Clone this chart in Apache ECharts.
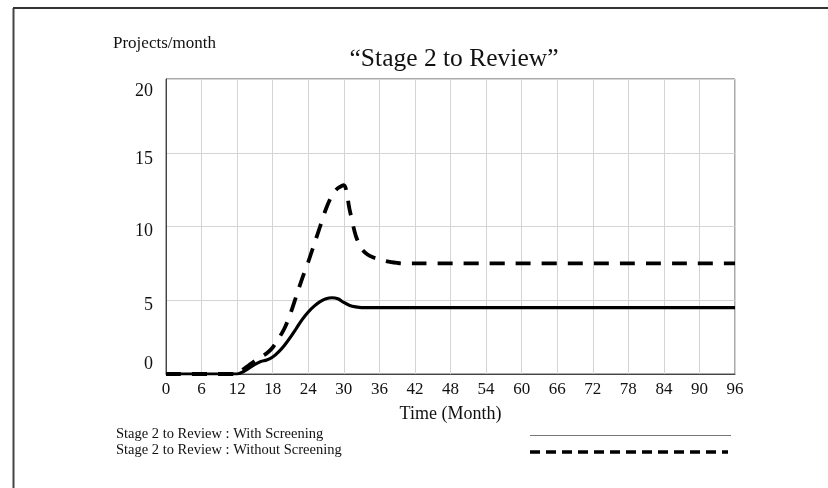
<!DOCTYPE html>
<html>
<head>
<meta charset="utf-8">
<script src="https://cdn.jsdelivr.net/npm/echarts@6/dist/echarts.min.js"></script>
<style>
html,body{margin:0;padding:0;background:#fff;}
#c{width:828px;height:488px;}
</style>
</head>
<body>
<div id="c"></div>
<script>
// Time (months)
var months = [0, 12, 13, 14, 15, 16, 17, 18, 19, 20, 21, 22, 23, 24, 25, 26, 27, 28, 29, 30, 31, 32, 33, 34, 35, 36, 37, 38, 39, 40, 42, 96];
// Stage 2 to Review : With Screening
var withScreening = [0, 0, 0.15, 0.4, 0.65, 0.85, 0.95, 1.15, 1.5, 1.95, 2.5, 3.1, 3.7, 4.2, 4.6, 4.9, 5.1, 5.17, 5.1, 4.85, 4.65, 4.55, 4.5, 4.5, 4.5, 4.5, 4.5, 4.5, 4.5, 4.5, 4.5, 4.5];
// Stage 2 to Review : Without Screening
var withoutScreening = [0, 0, 0.3, 0.6, 0.9, 1.15, 1.4, 1.8, 2.4, 3.1, 4.1, 5.3, 6.5, 7.6, 8.8, 10.0, 11.2, 12.1, 12.6, 12.8, 11.1, 9.4, 8.5, 8.1, 7.9, 7.78, 7.66, 7.58, 7.53, 7.5, 7.5, 7.5];
var xTicks = [0, 6, 12, 18, 24, 30, 36, 42, 48, 54, 60, 66, 72, 78, 84, 90, 96];
var yTicks = [0, 5, 10, 15, 20];
var titleText = '\u201CStage 2 to Review\u201D';
var unitText = 'Projects/month';
var xName = 'Time (Month)';
var legendNames = ['Stage 2 to Review : With Screening', 'Stage 2 to Review : Without Screening'];

function pairs(xs, ys) { return xs.map(function (x, i) { return [x, ys[i]]; }); }

var FONT = '"Liberation Serif", "DejaVu Serif", serif';
var chart = echarts.init(document.getElementById('c'), null, {renderer: 'canvas'});
chart.setOption({
  backgroundColor: '#fff',
  animation: false,
  title: {
    text: titleText, left: 449, top: 41, textAlign: 'center',
    textStyle: {fontFamily: FONT, fontSize: 25.5, fontWeight: 'normal', color: '#111'}
  },
  grid: {left: 166, right: 93, top: 79, bottom: 114, show: true, borderColor: '#555', borderWidth: 1},
  xAxis: {
    type: 'value', min: xTicks[0], max: xTicks[xTicks.length - 1], interval: 6,
    name: xName, nameLocation: 'middle', nameGap: 31,
    nameTextStyle: {fontFamily: FONT, fontSize: 18, color: '#111'},
    axisLine: {show: true, lineStyle: {color: '#444', width: 1}},
    axisTick: {show: false},
    axisLabel: {fontFamily: FONT, fontSize: 17, color: '#111', margin: 7},
    splitLine: {show: true, lineStyle: {color: '#d4d4d4', width: 1}}
  },
  yAxis: {
    type: 'value', min: yTicks[0], max: yTicks[yTicks.length - 1], interval: 5,
    axisLine: {show: true, lineStyle: {color: '#444', width: 1}},
    axisTick: {show: false},
    axisLabel: {
      fontFamily: FONT, fontSize: 18, color: '#111', margin: 13,
      formatter: function (v) {
        if (v === 20) return '{a|' + v + '}';
        if (v === 15) return '{b|' + v + '}';
        if (v === 10 || v === 5) return '{c|' + v + '}';
        if (v === 0) return '{d|' + v + '}';
        return v;
      },
      rich: {
        a: {fontFamily: FONT, fontSize: 18, color: '#111', padding: [24, 0, 0, 0]},
        b: {fontFamily: FONT, fontSize: 18, color: '#111', padding: [14, 0, 0, 0]},
        c: {fontFamily: FONT, fontSize: 18, color: '#111', padding: [10, 0, 0, 0]},
        d: {fontFamily: FONT, fontSize: 18, color: '#111', padding: [0, 0, 20, 0]}
      }
    },
    splitLine: {show: true, lineStyle: {color: '#d4d4d4', width: 1}}
  },
  series: [
    {
      name: legendNames[0], type: 'line', data: pairs(months, withScreening),
      showSymbol: false, symbol: 'none', smooth: 0.3,
      lineStyle: {color: '#000', width: 3.2, type: 'solid'}, z: 3
    },
    {
      name: legendNames[1], type: 'line', data: pairs(months, withoutScreening),
      showSymbol: false, symbol: 'none', smooth: 0.3,
      lineStyle: {color: '#000', width: 3.8, type: [15, 11]}, z: 4
    }
  ],
  graphic: [
    {type: 'line', shape: {x1: 13.5, y1: 8, x2: 13.5, y2: 488}, style: {stroke: '#444', lineWidth: 2}},
    {type: 'line', shape: {x1: 13, y1: 8, x2: 828, y2: 8}, style: {stroke: '#333', lineWidth: 2}},
    {type: 'text', left: 113, top: 35, style: {text: unitText, font: '17px ' + FONT, fill: '#111'}},
    {type: 'text', left: 116, top: 427, style: {text: legendNames[0], font: '14.5px ' + FONT, fill: '#111'}},
    {type: 'text', left: 116, top: 443, style: {text: legendNames[1], font: '14.5px ' + FONT, fill: '#111'}},
    {type: 'line', shape: {x1: 530, y1: 435.5, x2: 731, y2: 435.5}, style: {stroke: '#777', lineWidth: 1.2}},
    {type: 'line', shape: {x1: 530, y1: 452, x2: 728, y2: 452}, style: {stroke: '#000', lineWidth: 3.5, lineDash: [10, 6]}}
  ]
});
</script>
</body>
</html>
